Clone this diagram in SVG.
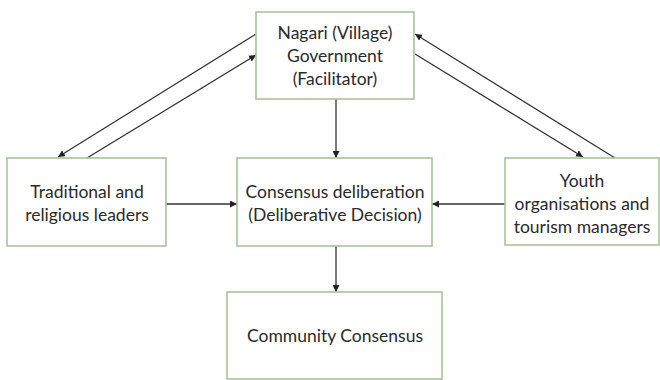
<svg xmlns="http://www.w3.org/2000/svg" width="660" height="380" viewBox="0 0 660 380">
<style>
.box{fill:#fff;stroke:#a8c39a;stroke-width:1.6}
.t{font-family:Lato,"Open Sans",sans-serif;font-size:17.5px;fill:#2a2a2a;text-anchor:middle}
.c{stroke:#333;stroke-width:1.3;fill:none;marker-end:url(#ah)}
</style>
<defs>
<marker id="ah" viewBox="0 0 10 10" refX="10" refY="5" markerWidth="7" markerHeight="7" orient="auto" markerUnits="userSpaceOnUse">
<path d="M0,0 L10,5 L0,10 z" fill="#222"/>
</marker>
</defs>
<rect width="660" height="380" fill="#fff"/>
<g id="connectors">
<line class="c" x1="256" y1="34" x2="58" y2="157"/>
<line class="c" x1="87" y1="158" x2="256" y2="55"/>
<line class="c" x1="615" y1="158" x2="415" y2="34"/>
<line class="c" x1="415" y1="54" x2="583" y2="157"/>
<line class="c" x1="336" y1="99" x2="336" y2="158"/>
<line class="c" x1="336" y1="246" x2="336" y2="292"/>
<line class="c" x1="166" y1="204" x2="237" y2="204"/>
<line class="c" x1="505" y1="204" x2="432" y2="204"/>
</g>
<g id="nagari">
<rect class="box" x="256" y="12" width="158" height="87"/>
<text class="t" x="335" y="39">Nagari (Village)</text>
<text class="t" x="335" y="62">Government</text>
<text class="t" x="335" y="85">(Facilitator)</text>
</g>
<g id="traditional">
<rect class="box" x="7" y="158" width="159" height="88"/>
<text class="t" x="87" y="198">Traditional and</text>
<text class="t" x="87" y="221">religious leaders</text>
</g>
<g id="deliberation">
<rect class="box" x="237" y="158" width="195" height="88"/>
<text class="t" x="335" y="198">Consensus deliberation</text>
<text class="t" x="335" y="221">(Deliberative Decision)</text>
</g>
<g id="youth">
<rect class="box" x="505" y="158" width="154" height="87"/>
<text class="t" x="582" y="187">Youth</text>
<text class="t" x="582" y="210">organisations and</text>
<text class="t" x="582" y="233">tourism managers</text>
</g>
<g id="community">
<rect class="box" x="227" y="292" width="215" height="87"/>
<text class="t" x="335" y="342">Community Consensus</text>
</g>
</svg>
